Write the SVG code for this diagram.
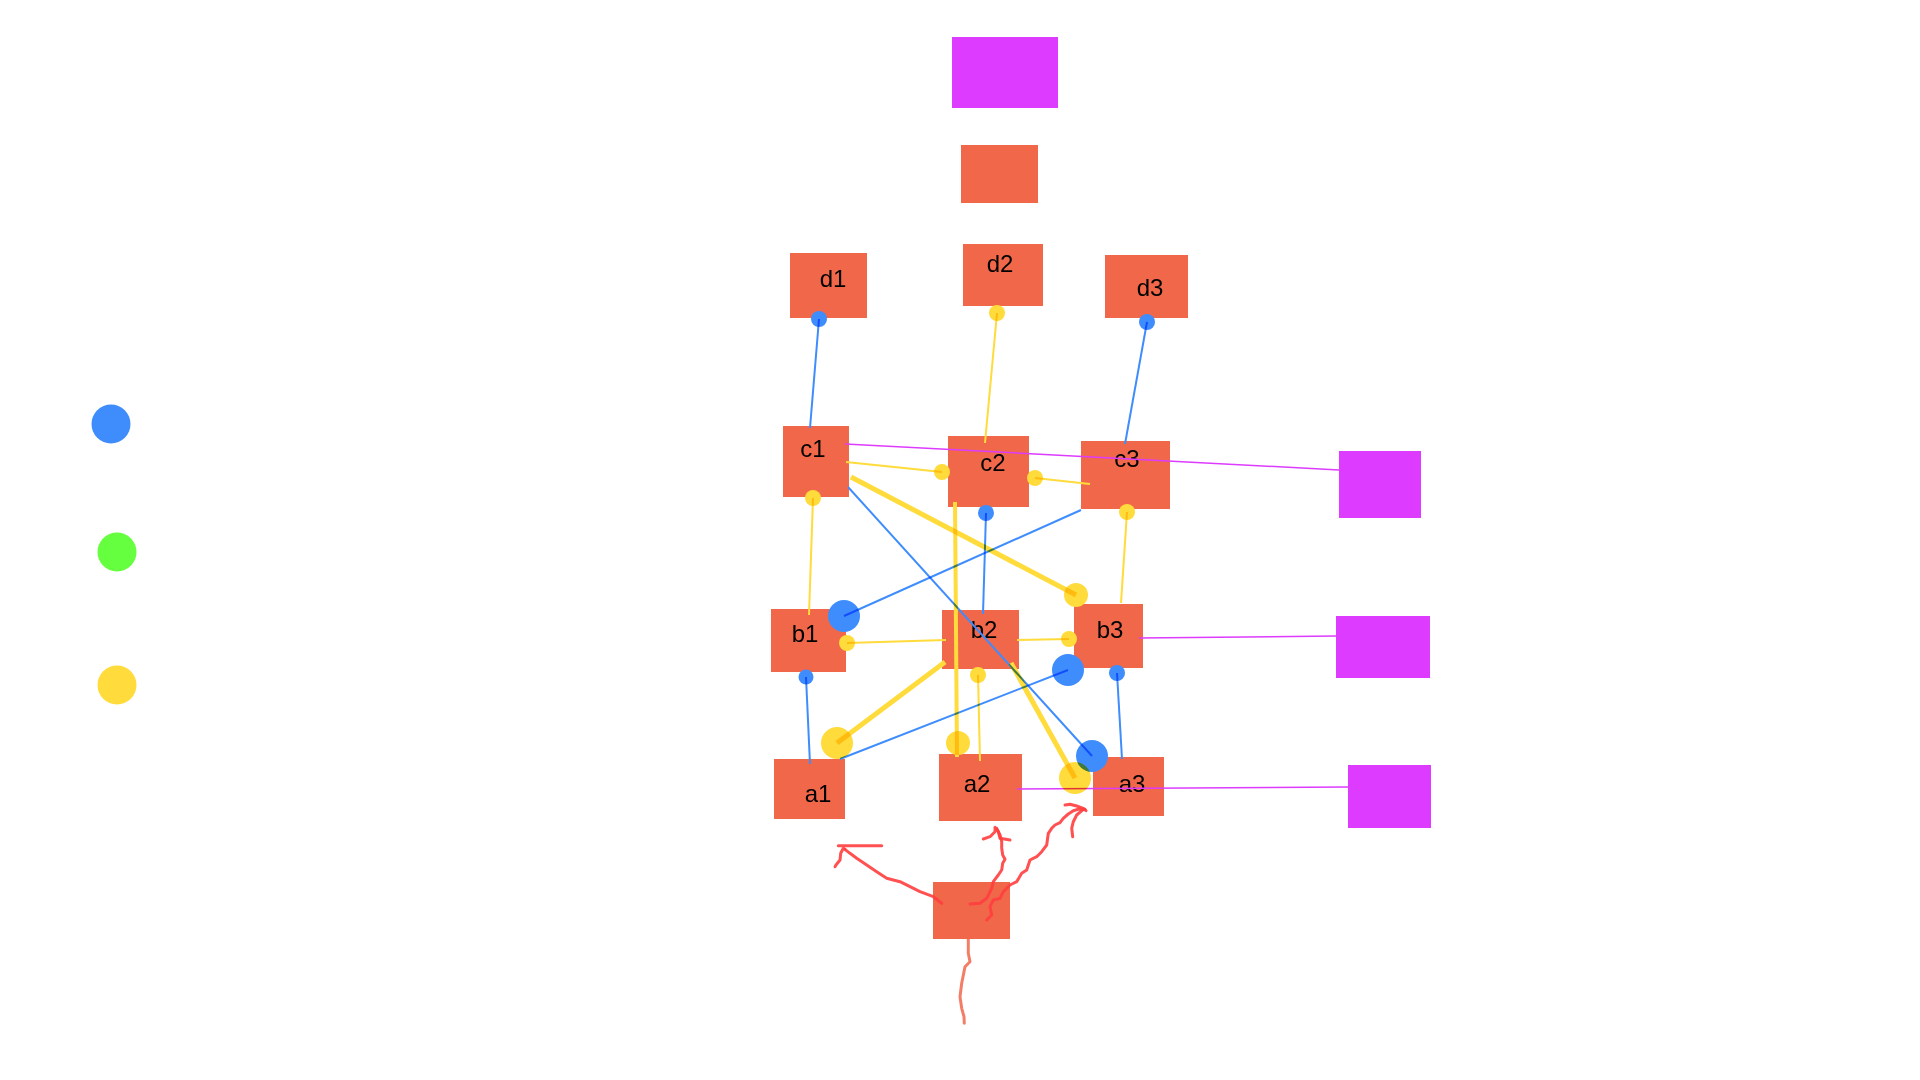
<svg xmlns="http://www.w3.org/2000/svg" width="1920" height="1080" viewBox="0 0 1920 1080">
<style>
.node{fill:#F1674A}
.pur{fill:#DD3BFF}
.lbl{font-family:"Liberation Sans",Arial,sans-serif;font-size:24px;fill:#000;text-anchor:middle}
#connectors{isolation:isolate}
#connectors > *{mix-blend-mode:multiply}
.lb{stroke:#3F8DFD;stroke-width:2;fill:none}
.ly{stroke:#FFDB3B;stroke-width:2;fill:none}
.lyt{stroke:#FFDB3B;stroke-width:5;fill:none}
.lp{stroke:#DD3BFF;stroke-width:1.5;fill:none}
.db{fill:#3F8DFD}
.dy{fill:#FFDB3B}
.scr{stroke:#FF3E3E;stroke-width:3;fill:none;stroke-linecap:round;stroke-linejoin:round;opacity:0.9}
.tail{stroke:#F1674A;stroke-width:3;fill:none;stroke-linecap:round;stroke-linejoin:round;opacity:0.85}
</style>
<rect width="1920" height="1080" fill="#FFFFFF"/>

<g id="legend">
<circle cx="111" cy="424" r="19.5" fill="#3F8DFD"/>
<circle cx="117" cy="552" r="19.5" fill="#66FF3F"/>
<circle cx="117" cy="685" r="19.5" fill="#FFDB3B"/>
</g>

<g id="top-purple"><rect class="pur" x="952" y="37" width="106" height="71"/></g>
<g id="top-orange"><rect class="node" x="961" y="145" width="77" height="58"/></g>

<g id="d1"><rect class="node" x="790" y="253" width="77" height="65"/><text class="lbl" x="833" y="287">d1</text></g>
<g id="d2"><rect class="node" x="963" y="244" width="80" height="62"/><text class="lbl" x="1000" y="272">d2</text></g>
<g id="d3"><rect class="node" x="1105" y="255" width="83" height="63"/><text class="lbl" x="1150" y="296">d3</text></g>

<g id="c1"><rect class="node" x="783" y="426" width="66" height="71"/><text class="lbl" x="813" y="457">c1</text></g>
<g id="c2"><rect class="node" x="948" y="436" width="81" height="71"/><text class="lbl" x="993" y="471">c2</text></g>
<g id="c3"><rect class="node" x="1081" y="441" width="89" height="68"/><text class="lbl" x="1127" y="467">c3</text></g>

<g id="b1"><rect class="node" x="771" y="609" width="75" height="63"/><text class="lbl" x="805" y="642">b1</text></g>
<g id="b2"><rect class="node" x="942" y="610" width="77" height="59"/><text class="lbl" x="984" y="638">b2</text></g>
<g id="b3"><rect class="node" x="1074" y="604" width="69" height="64"/><text class="lbl" x="1110" y="638">b3</text></g>

<g id="a1"><rect class="node" x="774" y="759" width="71" height="60"/><text class="lbl" x="818" y="802">a1</text></g>
<g id="a2"><rect class="node" x="939" y="754" width="83" height="67"/><text class="lbl" x="977" y="792">a2</text></g>
<g id="a3"><rect class="node" x="1093" y="757" width="71" height="59"/><text class="lbl" x="1132" y="792">a3</text></g>

<g id="p1"><rect class="pur" x="1339" y="451" width="82" height="67"/></g>
<g id="p2"><rect class="pur" x="1336" y="616" width="94" height="62"/></g>
<g id="p3"><rect class="pur" x="1348" y="765" width="83" height="63"/></g>

<g id="bottom"><rect class="node" x="933" y="882" width="77" height="57"/></g>

<g id="connectors">
<line class="lb" x1="810" y1="428" x2="819" y2="319"/><circle class="db" cx="819" cy="319" r="8"/>
<line class="ly" x1="985" y1="443" x2="997" y2="313"/><circle class="dy" cx="997" cy="313" r="8"/>
<line class="lb" x1="1125" y1="444" x2="1147" y2="322"/><circle class="db" cx="1147" cy="322" r="8"/>
<line class="ly" x1="846" y1="462" x2="942" y2="472"/><circle class="dy" cx="942" cy="472" r="8"/>
<line class="ly" x1="1090" y1="484" x2="1035" y2="478"/><circle class="dy" cx="1035" cy="478" r="8"/>
<line class="lyt" x1="851" y1="477" x2="1076" y2="595"/><circle class="dy" cx="1076" cy="595" r="12"/>
<line class="lb" x1="848" y1="487" x2="1092" y2="756"/><circle class="db" cx="1092" cy="756" r="16"/>
<line class="lb" x1="1081" y1="510" x2="844" y2="616"/><circle class="db" cx="844" cy="616" r="16"/>
<line class="lb" x1="983" y1="614" x2="986" y2="513"/><circle class="db" cx="986" cy="513" r="8"/>
<line class="lyt" style="stroke-width:4" x1="955" y1="502" x2="957" y2="757"/><circle class="dy" cx="958" cy="743" r="12"/>
<line class="ly" x1="809" y1="615" x2="813" y2="498"/><circle class="dy" cx="813" cy="498" r="8"/>
<line class="ly" x1="1121" y1="603" x2="1127" y2="512"/><circle class="dy" cx="1127" cy="512" r="8"/>
<line class="ly" x1="946" y1="640" x2="847" y2="643"/><circle class="dy" cx="847" cy="643" r="8"/>
<line class="ly" x1="1017" y1="640" x2="1069" y2="639"/><circle class="dy" cx="1069" cy="639" r="8"/>
<line class="lb" x1="810" y1="764" x2="806" y2="677"/><circle class="db" cx="806" cy="677" r="7.5"/>
<line class="lyt" x1="945" y1="662" x2="837" y2="743"/><circle class="dy" cx="837" cy="743" r="16"/>
<line class="lb" x1="840" y1="759" x2="1068" y2="670"/><circle class="db" cx="1068" cy="670" r="16"/>
<line class="ly" x1="980" y1="761" x2="978" y2="675"/><circle class="dy" cx="978" cy="675" r="8"/>
<line class="lyt" x1="1011" y1="663" x2="1075" y2="778"/><circle class="dy" cx="1075" cy="778" r="16"/>
<line class="lb" x1="1122" y1="759" x2="1117" y2="673"/><circle class="db" cx="1117" cy="673" r="8"/>
<line class="lp" x1="845" y1="444" x2="1339" y2="470"/>
<line class="lp" x1="1139" y1="638" x2="1336" y2="636"/>
<line class="lp" x1="1017" y1="789" x2="1348" y2="787"/>
</g>

<g id="scribbles">
<polyline class="scr" points="941.7,903.3 933.3,896.7 920,891.7 910,886.7 900,881.7 886.7,878.3 876.7,871.7 866.7,865 856.7,858.3 850,853.3 845,849.3"/>
<line class="scr" x1="838.3" y1="845.7" x2="881.7" y2="845.7"/>
<polyline class="scr" points="845,849.3 843.3,848.3 840.7,853.3 840,860 836,865 835,866.7"/>
<polyline class="scr" points="970,904 980,903.3 986.7,898.3 991.7,888.3 993.3,881.7 998.3,875 1001.7,870 1002.7,863.3 1005,859.3 1002.7,855 1001.7,848.3 1001.7,841.7 1000,835 996.7,828.3"/>
<polyline class="scr" points="983.3,839 990,836.7 995,831.7 995,827.3 998.3,831.7 1000,838.3 1010,840"/>
<polyline class="scr" points="986.7,920 991.7,915 990,906.7 993.3,900 1000,898.3 1003.3,891.7 1010,885 1016.7,881.7 1021.7,873.3 1026.7,870 1030,860 1036.7,856.7 1041.7,851.7 1046.7,845 1048.3,833.3 1051.7,828.3 1055,825 1060,822.7 1063.3,818.3 1068.3,814 1073.3,810.7 1078.3,809.3 1085,809.3"/>
<polyline class="scr" points="1065,805 1070,804.3 1076.7,806 1083.3,808.3 1086,810.7"/>
<polyline class="scr" points="1083.3,809.3 1076.7,815 1073.3,821.7 1071.7,828.3 1072.7,836.7"/>
<polyline class="tail" points="968.3,938.7 968.3,953.3 970,961.7 965,966.7 961.7,983.3 960,996.7 961.7,1008.3 964,1016.7 964.3,1023.3"/>
</g>
</svg>
